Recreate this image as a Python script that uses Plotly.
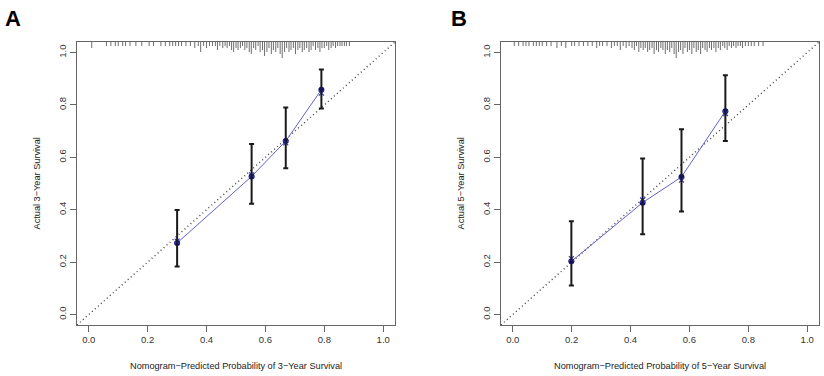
import plotly.graph_objects as go

# ---------------- data ----------------
pred_A = [0.300, 0.553, 0.669, 0.790]
obs_A = [0.273, 0.527, 0.662, 0.858]
corr_A = [0.280, 0.533, 0.655, 0.845]
lo_A = [0.183, 0.423, 0.558, 0.786]
hi_A = [0.399, 0.651, 0.790, 0.935]

pred_B = [0.199, 0.441, 0.573, 0.722]
obs_B = [0.203, 0.427, 0.525, 0.776]
corr_B = [0.213, 0.437, 0.513, 0.767]
lo_B = [0.111, 0.306, 0.393, 0.662]
hi_B = [0.356, 0.595, 0.707, 0.913]

rug_x_A = [0.01, 0.06, 0.075, 0.09, 0.10, 0.115, 0.125, 0.14, 0.16, 0.18, 0.205, 0.22, 0.245, 0.26,
           0.275, 0.285, 0.295, 0.305, 0.315, 0.33, 0.345, 0.36, 0.372, 0.38, 0.39, 0.40, 0.41, 0.42,
           0.43, 0.437, 0.445, 0.455, 0.463, 0.47, 0.478, 0.485, 0.492, 0.50, 0.507, 0.515, 0.522,
           0.53, 0.537, 0.545, 0.552, 0.56, 0.567, 0.575, 0.582, 0.59, 0.597, 0.605, 0.612, 0.62,
           0.627, 0.635, 0.642, 0.65, 0.657, 0.665, 0.672, 0.68, 0.687, 0.695, 0.702, 0.71, 0.717,
           0.725, 0.732, 0.74, 0.748, 0.755, 0.762, 0.77, 0.778, 0.785, 0.792, 0.80, 0.808, 0.815,
           0.823, 0.83, 0.838, 0.845, 0.853, 0.86, 0.868, 0.875, 0.885]
rug_n_A = [2, 1, 1, 1, 1, 1, 1, 1, 1, 1, 1, 1, 1, 1,
           1, 1, 1, 1, 1, 1, 1, 2, 1, 4, 1, 2, 1, 1,
           1, 3, 1, 2, 1, 2, 1, 3, 4, 2, 3, 2, 1,
           3, 2, 4, 5, 2, 3, 1, 4, 3, 6, 4, 2, 5,
           3, 4, 2, 5, 7, 4, 2, 4, 3, 2, 5, 3, 2,
           4, 3, 2, 4, 3, 1, 3, 2, 4, 2, 2, 1, 3,
           2, 1, 2, 1, 1, 1, 1, 1, 1]

rug_x_B = [0.005, 0.02, 0.035, 0.045, 0.055, 0.07, 0.08, 0.09, 0.10, 0.115, 0.13, 0.15, 0.165, 0.18,
           0.20, 0.21, 0.225, 0.24, 0.255, 0.27, 0.285, 0.295, 0.305, 0.32, 0.335, 0.345, 0.355,
           0.365, 0.375, 0.385, 0.395, 0.405, 0.413, 0.42, 0.428, 0.435, 0.443, 0.45, 0.458, 0.465,
           0.473, 0.48, 0.488, 0.495, 0.503, 0.51, 0.518, 0.525, 0.533, 0.54, 0.548, 0.555, 0.563,
           0.57, 0.578, 0.585, 0.593, 0.60, 0.608, 0.615, 0.623, 0.63, 0.638, 0.645, 0.653, 0.66,
           0.668, 0.675, 0.683, 0.69, 0.698, 0.705, 0.713, 0.72, 0.728, 0.735, 0.743, 0.75, 0.758,
           0.765, 0.773, 0.78, 0.79, 0.80, 0.81, 0.82, 0.835, 0.85]
rug_n_B = [1, 1, 1, 1, 1, 1, 1, 1, 1, 1, 1, 2, 1, 2,
           1, 1, 1, 1, 1, 1, 2, 1, 1, 1, 2, 1, 1,
           3, 1, 2, 1, 2, 3, 1, 4, 2, 3, 2, 4, 3,
           2, 5, 3, 4, 2, 3, 5, 3, 4, 2, 5, 7, 4,
           3, 5, 2, 4, 3, 5, 2, 4, 3, 5, 2, 3, 4,
           2, 3, 2, 4, 2, 3, 1, 2, 3, 1, 2, 1, 2,
           1, 1, 2, 1, 1, 1, 1, 1, 1]

tick_vals = [0.0, 0.2, 0.4, 0.6, 0.8, 1.0]
tick_text = ["0.0", "0.2", "0.4", "0.6", "0.8", "1.0"]
x_titles = ["Nomogram\u2212Predicted Probability of 3\u2212Year Survival",
            "Nomogram\u2212Predicted Probability of 5\u2212Year Survival"]
y_titles = ["Actual 3\u2212Year Survival", "Actual 5\u2212Year Survival"]
panel_labels = ["A", "B"]

# ---------------- figure ----------------
W, H = 824, 376
FONT = "Liberation Sans, Arial, sans-serif"
AX_LO, AX_HI = -0.04, 1.04
y_bottom_px, y_top_px = 325, 42
px_per_unit = (y_bottom_px - y_top_px) / (AX_HI - AX_LO)

fig = go.Figure()

panels = [
    dict(pred=pred_A, obs=obs_A, corr=corr_A, lo=lo_A, hi=hi_A, rx=rug_x_A, rn=rug_n_A, xa="x", ya="y"),
    dict(pred=pred_B, obs=obs_B, corr=corr_B, lo=lo_B, hi=hi_B, rx=rug_x_B, rn=rug_n_B, xa="x2", ya="y2"),
]

for p in panels:
    # rug at top
    rx, ry = [], []
    for xv, n in zip(p["rx"], p["rn"]):
        L = (2 + 2 * n) / px_per_unit
        rx += [xv, xv, None]
        ry += [AX_HI, AX_HI - L, None]
    fig.add_trace(go.Scatter(x=rx, y=ry, mode="lines", line=dict(color="#6e6e6e", width=1),
                             xaxis=p["xa"], yaxis=p["ya"], hoverinfo="skip", showlegend=False))
    # diagonal
    fig.add_trace(go.Scatter(x=[AX_LO, AX_HI], y=[AX_LO, AX_HI], mode="lines",
                             line=dict(color="#444444", width=1.4, dash="1px,3px"),
                             xaxis=p["xa"], yaxis=p["ya"], showlegend=False))
    # blue line + dots
    fig.add_trace(go.Scatter(x=p["pred"], y=p["obs"], mode="lines+markers",
                             line=dict(color="#6262d0", width=1),
                             marker=dict(color="#10108a", size=6),
                             xaxis=p["xa"], yaxis=p["ya"], showlegend=False))
    # bias-corrected x markers
    fig.add_trace(go.Scatter(x=p["pred"], y=p["corr"], mode="markers",
                             marker=dict(color="#3a3ab8", size=5, symbol="x-thin",
                                         line=dict(color="#3a3ab8", width=1.2)),
                             xaxis=p["xa"], yaxis=p["ya"], showlegend=False))
    # error bars
    fig.add_trace(go.Scatter(x=p["pred"], y=p["obs"], mode="markers",
                             marker=dict(size=1, color="rgba(0,0,0,0)"),
                             error_y=dict(type="data", symmetric=False,
                                          array=[h - o for h, o in zip(p["hi"], p["obs"])],
                                          arrayminus=[o - l for o, l in zip(p["obs"], p["lo"])],
                                          color="#1a1a1a", thickness=2, width=2.5),
                             xaxis=p["xa"], yaxis=p["ya"], showlegend=False))

axis_common = dict(range=[AX_LO, AX_HI], tickvals=tick_vals, ticktext=tick_text,
                   showline=True, mirror=True, linecolor="#666666", linewidth=1,
                   ticks="outside", ticklen=6, tickcolor="#666666", showgrid=False,
                   zeroline=False, tickfont=dict(family=FONT, size=9.5, color="#333333"))

xd = [[77 / W, 395 / W], [501 / W, 819 / W]]
yd = [1 - y_bottom_px / H, 1 - y_top_px / H]

fig.update_layout(
    width=W, height=H, margin=dict(l=0, r=0, t=0, b=0),
    paper_bgcolor="white", plot_bgcolor="white",
    xaxis=dict(domain=xd[0], anchor="y", **axis_common),
    yaxis=dict(domain=yd, anchor="x", tickangle=-90, **axis_common),
    xaxis2=dict(domain=xd[1], anchor="y2", **axis_common),
    yaxis2=dict(domain=yd, anchor="x2", tickangle=-90, **axis_common),
)

ann = []
for i in range(2):
    cx = (xd[i][0] + xd[i][1]) / 2
    ann.append(dict(text=x_titles[i], x=cx, y=1 - 366 / H, xref="paper", yref="paper",
                    showarrow=False, xanchor="center", yanchor="middle",
                    font=dict(family=FONT, size=9.2, color="#222222")))
    ann.append(dict(text=y_titles[i], x=(37 + 424 * i) / W, y=(yd[0] + yd[1]) / 2,
                    xref="paper", yref="paper", textangle=-90, showarrow=False,
                    xanchor="center", yanchor="middle",
                    font=dict(family=FONT, size=9.2, color="#222222")))
ann.append(dict(text="<b>" + panel_labels[0] + "</b>", x=3 / W, y=1 - 19 / H, xref="paper", yref="paper",
                showarrow=False, xanchor="left", yanchor="middle",
                font=dict(family=FONT, size=22, color="black")))
ann.append(dict(text="<b>" + panel_labels[1] + "</b>", x=449 / W, y=1 - 19 / H, xref="paper", yref="paper",
                showarrow=False, xanchor="left", yanchor="middle",
                font=dict(family=FONT, size=22, color="black")))
fig.update_layout(annotations=ann)

fig.write_html("out.html", config={"displayModeBar": False},
               post_script="document.body.style.margin='0';document.body.style.padding='0';")
